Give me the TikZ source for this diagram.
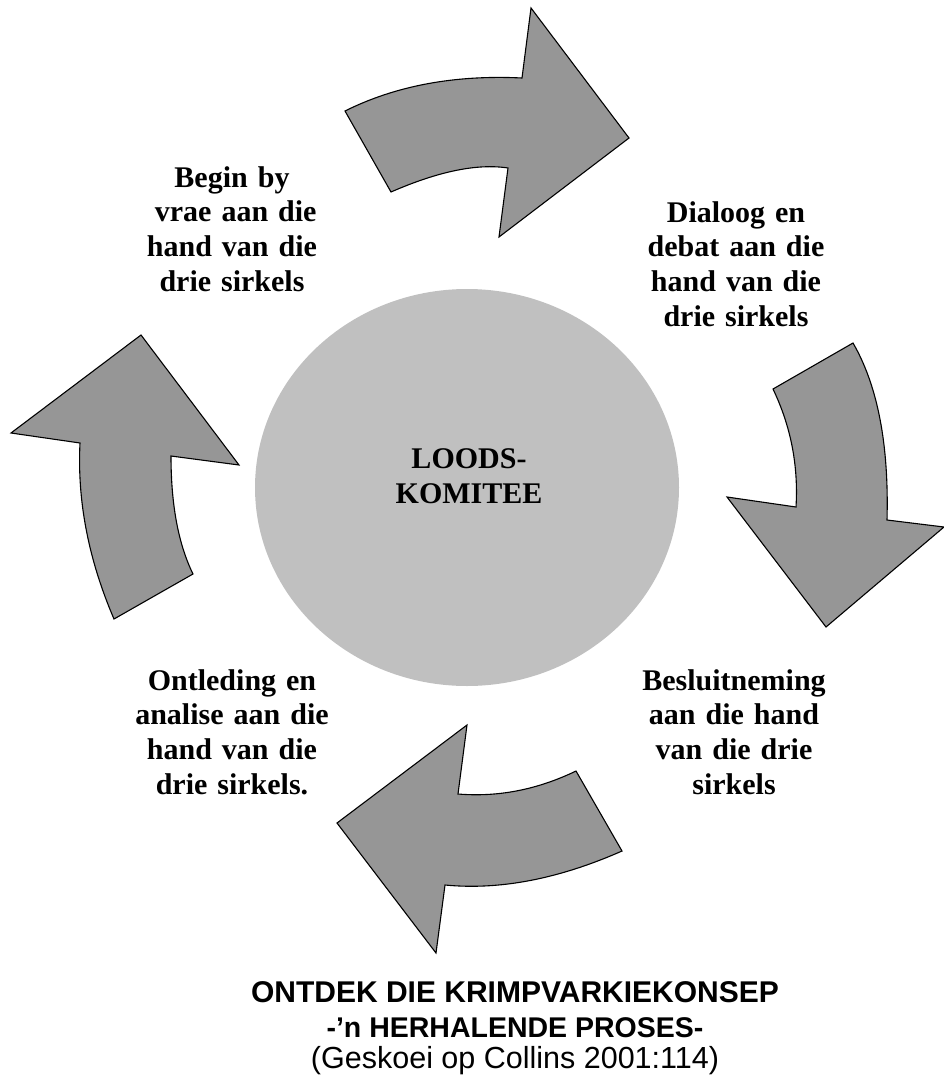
\documentclass[tikz,border=0pt]{standalone}
\usepackage{fontspec}
\setmainfont{Liberation Serif}
\setsansfont{Liberation Sans}
\usetikzlibrary{shapes.geometric}
\definecolor{arrowgray}{HTML}{969696}
\definecolor{hubgray}{HTML}{C0C0C0}
\begin{document}
\begin{tikzpicture}[x=1pt,y=-1pt,
  arrowshape/.style={draw=black, fill=arrowgray, line width=1.1pt, line join=miter},
  hubshape/.style={ellipse, fill=hubgray, draw=none, minimum width=424pt, minimum height=397pt, inner sep=0pt},
  steptext/.style={font=\fontsize{30}{34.7}\selectfont\bfseries, text width=260pt, align=center, anchor=base, inner sep=0pt},
  hubtext/.style={font=\fontsize{30}{35}\selectfont\bfseries, text width=260pt, align=center, anchor=base, inner sep=0pt},
  titleline/.style={font=\sffamily, anchor=base, inner sep=0pt}
]
\useasboundingbox (0,0) rectangle (944,1081);

% centre ellipse
\node[hubshape] (hub) at (467,487.5) {};
\node[hubtext] (hubtxt) at (469,468) {LOODS-\\KOMITEE};

% top arrow (pointing right)
\draw[arrowshape] (345,111) .. controls (395.7,85.7) and (454.6,74.7) .. (522,78)
  -- (531,8) -- (629,138) -- (499,237) -- (508,168)
  .. controls (477.3,163.3) and (438.4,171.3) .. (391,192) -- cycle;

% right arrow (pointing down)
\draw[arrowshape] (853,343) .. controls (877.7,385.7) and (889,444.6) .. (887,520)
  -- (944,527) -- (826,627) -- (727,497) -- (796,507)
  .. controls (798.5,465.4) and (790.8,426.2) .. (773,389) -- cycle;

% bottom arrow (pointing left)
\draw[arrowshape] (576,771) .. controls (537.3,789.7) and (498,797.3) .. (458,794)
  -- (467,725) -- (337,823) -- (436,953) -- (445,885)
  .. controls (499.7,890.3) and (558.6,879) .. (622,851) -- cycle;

% left arrow (pointing up)
\draw[arrowshape] (114,619) -- (193,574)
  .. controls (178.3,544) and (171,504.7) .. (171,456)
  -- (239,465) -- (141,335) -- (11,433) -- (80,443)
  .. controls (77.1,500.9) and (88.5,559.6) .. (114,619) -- cycle;

% step labels
\node[steptext] (begin) at (232,187) {Begin by\\\hspace*{0.25em}vrae aan die\\hand van die\\drie sirkels};
\node[steptext] (dialoog) at (736,222) {Dialoog en\\debat aan die\\hand van die\\drie sirkels};
\node[steptext] (ontleding) at (232,690) {Ontleding en\\analise aan die\\hand van die\\drie sirkels.};
\node[steptext] (besluit) at (734,690) {Besluitneming\\aan die hand\\van die drie\\sirkels};

% title
\node[titleline, font=\sffamily\bfseries\fontsize{30}{35}\selectfont] (title1) at (515,1002) {ONTDEK DIE KRIMPVARKIEKONSEP};
\node[titleline, font=\sffamily\bfseries\fontsize{28.5}{34}\selectfont] (title2) at (515,1037) {-’n HERHALENDE PROSES-};
\node[titleline, font=\sffamily\fontsize{30.5}{36}\selectfont] (title3) at (515,1068) {(Geskoei op Collins 2001:114)};
\end{tikzpicture}
\end{document}
